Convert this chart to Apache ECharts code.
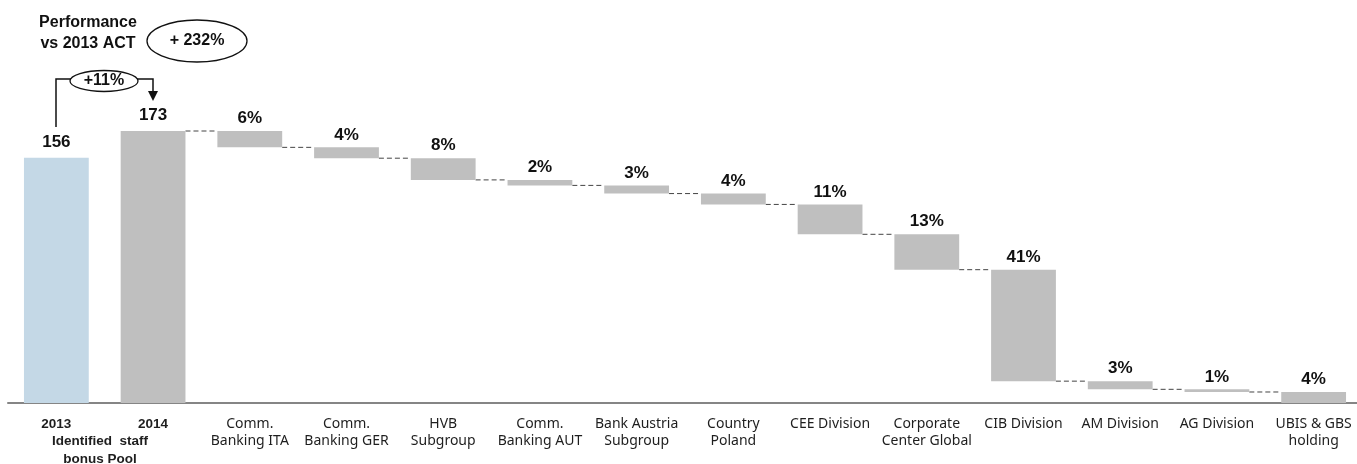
<!DOCTYPE html>
<html>
<head>
<meta charset="utf-8">
<script src="https://cdn.jsdelivr.net/npm/echarts@6/dist/echarts.min.js"></script>
<style>
html,body{margin:0;padding:0;background:#fff;}
#chart{width:1357px;height:464px;}
</style>
</head>
<body>
<div id="chart"></div>
<script>
const categories = ['2013', '2014', 'Comm.\nBanking ITA', 'Comm.\nBanking GER', 'HVB\nSubgroup', 'Comm.\nBanking AUT', 'Bank Austria\nSubgroup', 'Country\nPoland', 'CEE Division', 'Corporate\nCenter Global', 'CIB Division', 'AM Division', 'AG Division', 'UBIS & GBS\nholding'];
const totals = [156, 173];
const deltas = [10.4, 6.9, 13.8, 3.5, 5.2, 6.9, 19.0, 22.5, 70.9, 5.2, 1.7, 7.0];
const deltaLabels = ['6%', '4%', '8%', '2%', '3%', '4%', '11%', '13%', '41%', '3%', '1%', '4%'];
const headlineLabel = 'Performance\nvs 2013 ACT';
const headlineValue = '+ 232%';
const growthValue = '+11%';
const poolLabel = 'Identified  staff\nbonus Pool';

// Build waterfall table
const baseData = [0, 0];
const valueData = totals.slice();
const connectors = [];
let level = totals[1];
connectors.push([1, level]);
deltas.forEach((d, i) => {
  level = level - d;
  baseData.push(level);
  valueData.push(d);
  if (i < deltas.length - 1) connectors.push([i + 2, level]);
});

const barFrac = 0.67;
const chart = echarts.init(document.getElementById('chart'));
const boldFont = 'Liberation Sans, Arial, sans-serif';

chart.setOption({
  animation: false,
  grid: { left: 8, right: -5, top: 131, bottom: 61, outerBoundsMode: 'none' },
  xAxis: {
    type: 'category',
    data: categories,
    axisTick: { show: false },
    axisLine: { lineStyle: { color: '#858585', width: 2 } },
    axisLabel: {
      interval: 0,
      margin: 13,
      color: '#1e1e1e',
      fontFamily: 'Noto Sans, Open Sans, sans-serif',
      fontSize: 14,
      lineHeight: 17,
      formatter: function (v, i) { return i < 2 ? '{b|' + v + '}' : v; },
      rich: { b: { fontFamily: boldFont, fontWeight: 'bold', fontSize: 13.5, lineHeight: 17, color: '#1e1e1e' } }
    }
  },
  yAxis: { type: 'value', min: 0, max: 173, show: false },
  series: [
    {
      type: 'bar', stack: 'w', data: baseData, barWidth: (barFrac * 100) + '%',
      itemStyle: { color: 'transparent' }, silent: true
    },
    {
      type: 'bar', stack: 'w', barWidth: (barFrac * 100) + '%',
      data: valueData.map((v, i) => ({
        value: v,
        itemStyle: { color: i === 0 ? '#C4D8E6' : '#BFBFBF' },
        label: { distance: i < 2 ? 7 : 4 }
      })),
      label: {
        show: true, position: 'top',
        fontFamily: boldFont, fontWeight: 'bold', fontSize: 17, color: '#111',
        formatter: function (p) { return p.dataIndex < 2 ? String(p.value) : deltaLabels[p.dataIndex - 2]; }
      }
    },
    {
      type: 'custom',
      data: connectors,
      silent: true,
      renderItem: function (params, api) {
        const i = api.value(0), y = api.value(1);
        const p1 = api.coord([i, y]);
        const p2 = api.coord([i + 1, y]);
        const hw = api.size([1, 0])[0] * barFrac / 2;
        return {
          type: 'line',
          shape: { x1: p1[0] + hw, y1: p1[1], x2: p2[0] - hw, y2: p2[1] },
          style: { stroke: '#444', lineWidth: 1, lineDash: [5, 3] }
        };
      }
    }
  ],
  graphic: [
    { type: 'text', x: 88, y: 33, style: { text: headlineLabel, textAlign: 'center', textVerticalAlign: 'middle', fontFamily: boldFont, fontWeight: 'bold', fontSize: 16, lineHeight: 21, fill: '#111' } },
    { type: 'ellipse', shape: { cx: 197, cy: 41, rx: 50, ry: 21 }, style: { fill: '#fff', stroke: '#111', lineWidth: 1.3 } },
    { type: 'text', x: 197, y: 41, style: { text: headlineValue, textAlign: 'center', textVerticalAlign: 'middle', fontFamily: boldFont, fontWeight: 'bold', fontSize: 16, fill: '#111' } },
    { type: 'polyline', shape: { points: [[56, 127], [56, 79], [72, 79]] }, style: { stroke: '#111', lineWidth: 1.5, fill: null } },
    { type: 'polyline', shape: { points: [[137, 79], [153, 79], [153, 92]] }, style: { stroke: '#111', lineWidth: 1.5, fill: null } },
    { type: 'polygon', shape: { points: [[148, 91], [158, 91], [153, 101]] }, style: { fill: '#111' } },
    { type: 'ellipse', shape: { cx: 104, cy: 81, rx: 34, ry: 10.5 }, style: { fill: '#fff', stroke: '#111', lineWidth: 1.3 } },
    { type: 'text', x: 104, y: 81, style: { text: growthValue, textAlign: 'center', textVerticalAlign: 'middle', fontFamily: boldFont, fontWeight: 'bold', fontSize: 16, fill: '#111' } },
    { type: 'text', x: 100, y: 450, style: { text: poolLabel, textAlign: 'center', textVerticalAlign: 'middle', fontFamily: boldFont, fontWeight: 'bold', fontSize: 13.5, lineHeight: 18, fill: '#1e1e1e' } }
  ]
});
</script>
</body>
</html>
